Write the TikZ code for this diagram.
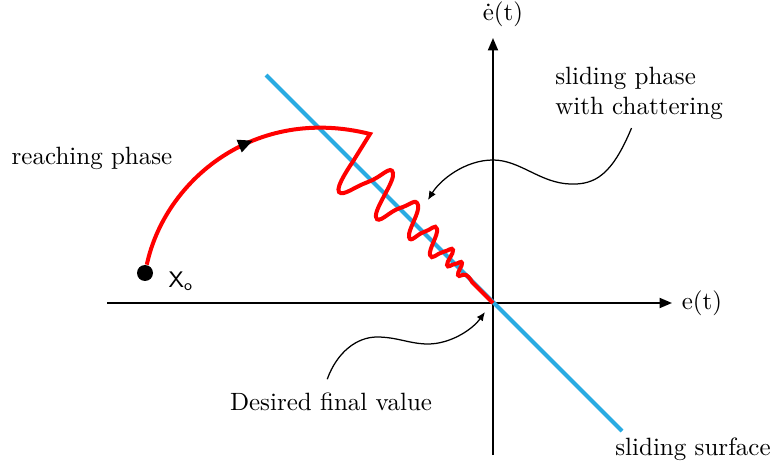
\documentclass[tikz,border=0pt]{standalone}
\usepackage{amsmath}
\usetikzlibrary{arrows.meta, decorations.markings}
\definecolor{surfblue}{RGB}{41,171,226}
\tikzset{
    smcaxis/.style={-{Triangle[length=5pt,width=4pt]}, line width=0.8pt},
    smcsurface/.style={line width=1.6pt, draw=surfblue},
    smctraj/.style={line width=1.6pt, draw=red},
    smccallout/.style={-{Latex[length=3.5pt,width=3pt]}, line width=0.5pt},
    smcpoint/.style={circle, fill=black, minimum size=6.4pt, inner sep=0pt},
    smcmid/.style={postaction={decorate}, decoration={markings, mark=at position 68pt with {\arrow{Triangle[length=6pt,width=5pt,color=black]}}}}
}

\begin{document}
\begin{tikzpicture}[x=0.4pt, y=-0.4pt]
    \useasboundingbox (0,0) rectangle (774,466);
    \coordinate (O) at (493,303);

    % Axes
    \coordinate (exL) at (107,303);
    \coordinate (exR) at (672,303);
    \coordinate (eyB) at (493,455);
    \coordinate (eyT) at (493,38);
    \draw[smcaxis] (exL) -- (exR);
    \draw[smcaxis] (eyB) -- (eyT);
    \node (ex) at (702,303) {e(t)};
    \node (ey) at (503,14) {\.{e}(t)};

    % Sliding surface
    \coordinate (sTop) at (266,75);
    \coordinate (sBot) at (622,431);
    \draw[smcsurface] (sTop) -- (sBot);
    \node (surf) at (693,449) {sliding surface};

    % Reaching phase, then chattering along the surface
    \node[smcpoint] (x0) at (145,273) {};
    \node (x0lab) at (181,281) {\small$\mathsf{X_o}$};
    \coordinate (C) at (370,134);
    \draw[smctraj, smcmid] (x0) .. controls (165,180) and (255,105) .. (C)
        -- plot[smooth, tension=0.9] coordinates {(352,163) (339,192) (368,182) (393,173)
            (376,217) (400,208) (418,205) (409,237) (424,232) (437,229)
            (430,255) (443,252) (453,250) (447,265) (455,264) (462,263)
            (458,275) (466,275) (472,282)} -- (O);
    \node (reach) at (92,158) {reaching phase};

    % Callouts
    \node[align=left] (chat) at (639,93) {sliding phase\\with chattering};
    \coordinate (chatTip) at (428,200);
    \draw[smccallout] ([xshift=-3pt]chat.south) .. controls (612,175) and (595,185) .. (570,184)
        .. controls (540,183) and (520,160) .. (493,160)
        .. controls (465,160) and (440,180) .. (chatTip);

    \node (final) at (331,402) {Desired final value};
    \coordinate (finalTip) at (485,312);
    \draw[smccallout] ([xshift=-1.5pt,yshift=2pt]final.north) .. controls (337,352) and (357,337) .. (377,337)
        .. controls (397,337) and (410,344) .. (428,344)
        .. controls (450,344) and (472,330) .. (finalTip);
\end{tikzpicture}
\end{document}
